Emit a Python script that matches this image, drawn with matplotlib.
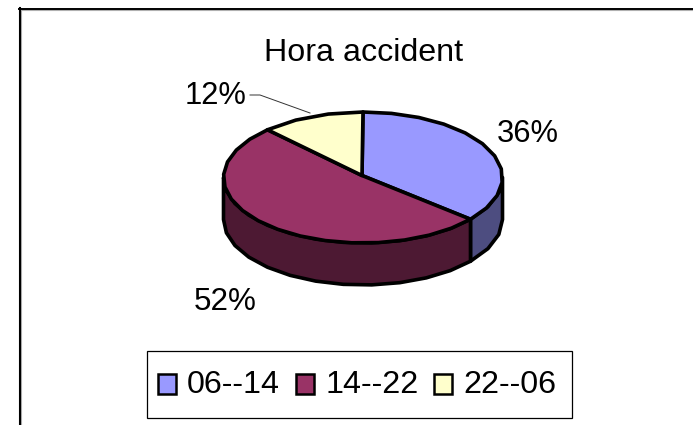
import numpy as np
import matplotlib
matplotlib.use("Agg")
import matplotlib.pyplot as plt
from matplotlib.patches import Polygon, Rectangle

plt.rcParams['font.family'] = ['Liberation Sans', 'DejaVu Sans']

categories = ["06--14", "14--22", "22--06"]
values = [36, 52, 12]
value_labels = ["36%", "52%", "12%"]
top_colors = ["#9999FF", "#993366", "#FFFFCC"]
side_colors = ["#4D4D80", "#4D1933", "#808066"]

# pie geometry in pixels
cx, cy = 363, 177.5
rx, ry = 139.5, 65.5
depth = 42


def rim(t0, t1, step=11.0):
    # coarse steps on purpose, the original outline is a bit lumpy
    n = max(2, int(abs(t1 - t0) / step) + 1)
    t = np.radians(np.linspace(t0, t1, n))
    return cx + rx * np.sin(t), cy - ry * np.cos(t)


fig = plt.figure(figsize=(6.93, 4.25), dpi=100)
ax = fig.add_axes([0, 0, 1, 1])
ax.set_xlim(0, 693)
ax.set_ylim(425, 0)
ax.axis('off')

# outer frame, cut by the image edge
ax.plot([20.8, 20.8], [10, 425], color="#b0b0b0", lw=0.8)
ax.plot([21, 693], [9.9, 9.9], color="#b0b0b0", lw=0.8)
ax.plot([19.7, 19.7], [8, 425], color="black", lw=1.5)
ax.plot([19, 693], [8.7, 8.7], color="black", lw=1.4)

ends = np.cumsum(values) / np.sum(values) * 360
starts = np.concatenate([[0], ends[:-1]])

# walls first, only the front half of the rim shows
for a, b, c in zip(starts, ends, side_colors):
    lo, hi = max(a, 90), min(b, 270)
    if lo >= hi:
        continue
    x, y = rim(lo, hi)
    xs = np.concatenate([x, x[::-1]])
    ys = np.concatenate([y, y[::-1] + depth])
    ax.add_patch(Polygon(np.c_[xs, ys], closed=True, fc=c, ec="black", lw=2.6, joinstyle='round'))

# top surface
for a, b, c in zip(starts, ends, top_colors):
    x, y = rim(a, b)
    xs = np.concatenate([[cx - 1], x])
    ys = np.concatenate([[cy - 2], y])
    ax.add_patch(Polygon(np.c_[xs, ys], closed=True, fc=c, ec="black", lw=2.6, joinstyle='round'))

ax.text(363.5, 53, "Hora accident", fontsize=23.2, ha='center', va='center')
ax.text(527.5, 134, value_labels[0], fontsize=22.2, ha='center', va='center')
ax.text(225.5, 302, value_labels[1], fontsize=22.6, ha='center', va='center')
ax.text(215.5, 96, value_labels[2], fontsize=22.2, ha='center', va='center')

# leader for the small slice
ax.plot([250, 260, 310], [95, 95, 113], color="#333333", lw=0.7)

# legend box
ax.add_patch(Rectangle((146.5, 350.5), 425, 67, fc="white", ec="black", lw=0.9))
marker_x = [158, 296, 434]
text_x = [187, 326, 463]
for mx, tx, name, c in zip(marker_x, text_x, categories, top_colors):
    ax.add_patch(Rectangle((mx, 373.5), 18, 20, fc=c, ec="black", lw=1.8))
    ax.text(tx, 385, name, fontsize=23.2, ha='left', va='center')

fig.savefig("out.png", dpi=100)
